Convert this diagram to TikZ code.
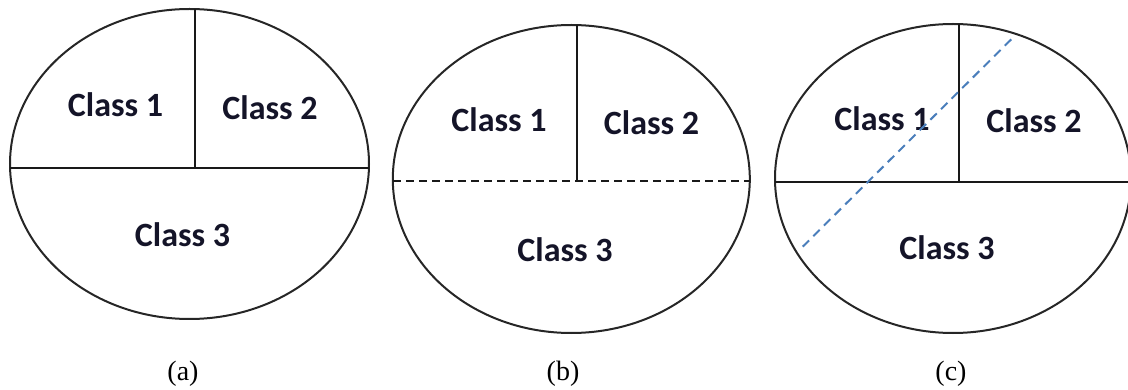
\documentclass[tikz,border=0pt]{standalone}
\usepackage{fontspec}
\setmainfont{Liberation Serif}
\newfontfamily\classfont{Carlito}
\usetikzlibrary{shapes.geometric}
\definecolor{dashblue}{HTML}{4A7EBB}
\definecolor{textdark}{HTML}{141428}
\tikzset{
  region/.style={ellipse, draw=black!85, line width=2pt, inner sep=0pt},
  divider/.style={draw=black!90, line width=2pt},
  dividerdashed/.style={draw=black!90, line width=2pt, dash pattern=on 8pt off 5pt},
  bluedash/.style={draw=dashblue, line width=2pt, dash pattern=on 9pt off 6pt},
  classlabel/.style={anchor=base, inner sep=0pt, text=textdark, font=\classfont\bfseries\fontsize{34}{40}\selectfont},
  caption/.style={anchor=base, inner sep=0pt, font=\fontsize{28}{32}\selectfont}
}
\begin{document}
\begin{tikzpicture}[x=1pt, y=-1pt]
\useasboundingbox (0,0) rectangle (1128,390);
% (a)
\node[region, minimum width=359pt, minimum height=310pt] (ea) at (189.5,164) {};
\coordinate (atop) at (195,9.5);
\coordinate (amid) at (195,168);
\coordinate (aleft) at (10,168);
\coordinate (aright) at (369,168);
\draw[divider] (atop) -- (amid);
\draw[divider] (aleft) -- (aright);
\node[classlabel] (a1) at (115.5,117) {Class 1};
\node[classlabel] (a2) at (270,120) {Class 2};
\node[classlabel] (a3) at (182.5,247) {Class 3};
\node[caption] (capa) at (183,381) {(a)};
% (b)
\node[region, minimum width=357pt, minimum height=308pt] (eb) at (571.3,179) {};
\coordinate (btop) at (576.7,25);
\coordinate (bmid) at (576.7,182);
\coordinate (bleft) at (393,181.5);
\coordinate (bright) at (750,181.5);
\draw[divider] (btop) -- (bmid);
\draw[dividerdashed] (bleft) -- (bright);
\node[classlabel] (b1) at (499,132) {Class 1};
\node[classlabel] (b2) at (651.5,135) {Class 2};
\node[classlabel] (b3) at (565,262) {Class 3};
\node[caption] (capb) at (563,381) {(b)};
% (c)
\node[region, minimum width=356pt, minimum height=309pt] (ec) at (953,178.5) {};
\coordinate (ctop) at (959.3,24);
\coordinate (cmid) at (959.3,181.7);
\coordinate (cleft) at (775,181.7);
\coordinate (cright) at (1131,181.7);
\coordinate (cb1) at (802.7,246.7);
\coordinate (cb2) at (1013.3,37.3);
\draw[divider] (ctop) -- (cmid);
\draw[divider] (cleft) -- (cright);
\node[classlabel] (c1) at (882,131) {Class 1};
\node[classlabel] (c2) at (1034,133) {Class 2};
\node[classlabel] (c3) at (947,260) {Class 3};
\draw[bluedash] (cb1) -- (cb2);
\node[caption] (capc) at (951,381) {(c)};
\end{tikzpicture}
\end{document}
